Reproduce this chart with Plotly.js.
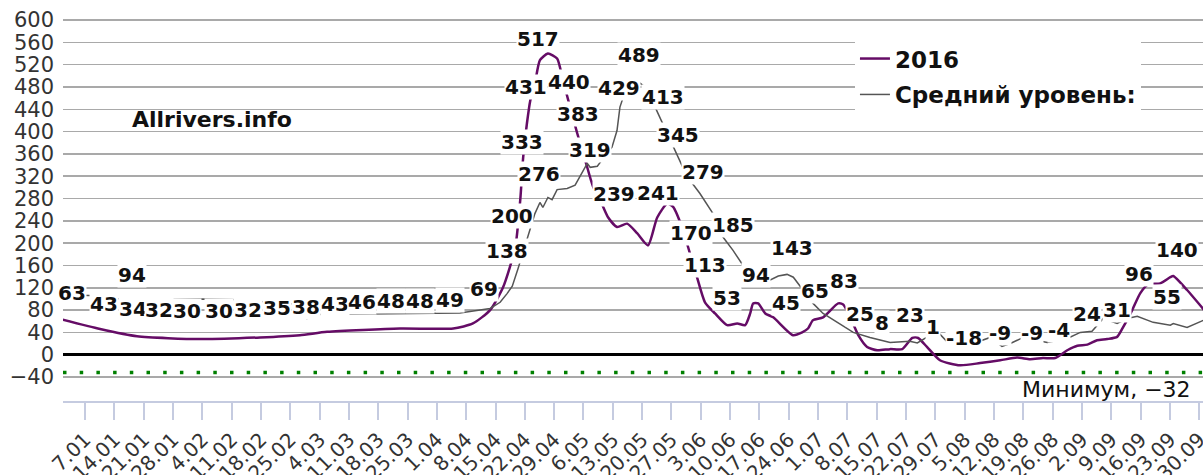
<!DOCTYPE html>
<html>
<head>
<meta charset="utf-8">
<script src="https://cdn.plot.ly/plotly-3.0.1.min.js"></script>
<style>
  html, body { margin: 0; padding: 0; background: #fff; }
  #chart { width: 1203px; height: 475px; }
</style>
</head>
<body>
<div id="chart"></div>
<script>
// The x axis is a generic (non-leap) calendar year, as in the original chart.
const REF_YEAR = 2015;

// 2016 water level (day of year, value)
const days2016 = [1.5,10.6,19.4,34.5,48.8,58.3,64.8,82.2,94.9,99.6,103.7,106.8,109.7,110.9,111.6,112.5,113.3,114.4,115.6,117.5,119.7,121.1,122.8,124.5,126.4,128.3,130.0,131.9,134.0,136.4,138.8,141.4,143.6,146.0,147.4,149.5,151.4,153.1,155.0,157.4,160.3,162.7,164.6,165.8,166.5,167.7,169.4,171.3,176.0,178.2,179.6,180.8,183.2,186.8,188.0,189.7,191.6,193.7,196.1,199.2,202.1,204.5,205.9,208.0,211.1,215.9,220.7,225.5,229.5,232.6,235.7,238.6,241.5,243.9,246.3,248.6,251.0,253.4,254.8,257.0,258.9,260.8,263.7,266.1,266.8,270.1,274.4];
const level2016 = [63,46,33,28,31,35,41,47,47,56,80,121,192,277,354,415,456,486,528,540,531,492,444,397,349,301,277,246,229,235,218,196,246,271,265,229,182,139,94,74,53,56,53,74,92,92,74,67,35,40,47,62,67,92,90,67,35,14,8,10,10,30,30,14,-10,-19,-15,-10,-5,-8,-6,-6,8,16,18,26,28,32,49,80,110,126,128,139,141,116,78];

// Average level (day of year, value)
const daysAvg = [1,8.2,14.2,20.8,27.3,34.5,42.1,49.3,56.0,58.3,60.0,61.4,62.6,82.2,96.5,103.7,106.1,107.8,109.0,110.4,112.5,114.4,115.6,116.3,117.5,118.5,119.7,122.1,124.0,125.7,126.9,127.6,129.3,130.7,132.8,134.0,134.7,135.5,137.6,139.5,141.2,143.1,146.0,148.3,150.7,153.8,157.0,159.3,161.7,164.1,167.4,170.6,172.5,174.6,176.1,178.4,180.8,183.2,186.6,190.4,194.4,199.2,203.9,205.7,208.8,210.7,213.1,215.9,219.0,223.1,225.9,227.9,231.0,234.3,236.7,241.5,244.6,247.4,250.1,253.4,255.8,258.2,262.0,266.1,266.8,270.1,274.4];
const levelAvg = [107,106,101,98,99,100,99,95,92,90,65,74,72,74,75,83,94,110,123,155,205,253,273,264,282,278,296,298,304,327,343,336,338,352,372,402,444,462,480,487,477,444,397,361,320,289,252,211,187,160,139,134,141,144,139,116,92,74,58,40,31,22,24,21,35,40,21,13,20,31,15,20,31,26,22,29,40,42,65,56,65,69,58,53,56,49,63];

// Value labels (day of year, value)
const labelDays = [3.9,11.5,18.5,18.2,24.7,31.4,39.0,45.9,52.8,59.8,66.7,73.1,80.1,87.0,94.1,102.2,107.7,108.9,111.3,112.3,115.4,115.2,122.6,124.7,127.6,133.3,134.5,139.3,143.8,145.0,148.6,151.7,154.6,155.0,160.3,161.7,167.2,174.4,175.8,181.3,188.2,192.0,197.3,203.9,209.5,216.9,225.5,233.1,239.5,246.2,253.4,258.7,265.4,267.8];
const labelValues = [63,43,34,94,32,30,30,32,35,38,43,46,48,48,49,69,138,200,333,431,276,517,440,383,319,239,429,489,241,413,345,170,279,113,53,185,94,45,143,65,83,25,8,23,1,-18,-9,-9,-4,24,31,96,55,140];

const seriesNames = ['2016', 'Средний уровень:'];
const minLevel = -32;
const minLabel = 'Минимум';
const yTicks = [-40,0,40,80,120,160,200,240,280,320,360,400,440,480,520,560,600];

function dayToDate(doy) {
  const ms = Date.UTC(REF_YEAR, 0, 1) + (doy - 1) * 864e5;
  return new Date(ms).toISOString().slice(0, 19).replace('T', ' ');
}

const FONT = 'DejaVu Sans, Verdana, sans-serif';

const traces = [
  {
    type: 'scatter', mode: 'lines', name: seriesNames[0], legendgroup: 'a',
    x: days2016.map(dayToDate), y: level2016,
    line: { color: '#650c66', width: 2.5, shape: 'spline', smoothing: 0.6 },
    hoverinfo: 'skip'
  },
  {
    type: 'scatter', mode: 'lines', name: seriesNames[1], legendgroup: 'b',
    x: daysAvg.map(dayToDate), y: levelAvg,
    line: { color: '#555555', width: 1.5 },
    hoverinfo: 'skip'
  }
];

const annotations = labelDays.map((d, i) => ({
  x: dayToDate(d), y: labelValues[i], xref: 'x', yref: 'y',
  text: String(labelValues[i]), showarrow: false, yshift: 27,
  bgcolor: 'white', borderpad: 0,
  font: { family: FONT, size: 20, weight: 'bold', color: '#111' }
}));
annotations.push({
  xref: 'paper', yref: 'paper', x: 0.1307, y: 0.7032, xanchor: 'center', yanchor: 'middle',
  text: 'Allrivers.info', showarrow: false,
  font: { family: FONT, size: 22, weight: 'bold', color: '#111' }
});
annotations.push({
  xref: 'paper', yref: 'y', x: 0.9912, y: minLevel, xanchor: 'right', yanchor: 'middle', yshift: -17,
  text: minLabel + ', ' + String(minLevel).replace('-', '\u2212'), showarrow: false,
  font: { family: FONT, size: 22, color: '#111' }
});

const layout = {
  width: 1203, height: 475,
  margin: { l: 63, r: 0, t: 0, b: 74, pad: 0 },
  paper_bgcolor: 'white', plot_bgcolor: 'white',
  font: { family: FONT, color: '#333' },
  showlegend: true,
  legend: {
    x: 0.6947, y: 0.9075, xanchor: 'left', yanchor: 'top',
    bgcolor: 'white', borderwidth: 0,
    font: { family: FONT, size: 23, weight: 'bold', color: '#111' },
    traceorder: 'grouped', tracegroupgap: 3
  },
  xaxis: {
    type: 'date', range: [dayToDate(1.74), dayToDate(273.9)],
    tick0: dayToDate(7), dtick: 7 * 864e5, tickformat: '%-d.%m', tickangle: -45,
    ticks: 'outside', ticklen: 17, tickwidth: 2, tickcolor: '#c5cbe0',
    showline: true, linecolor: '#c5cbe0', linewidth: 2,
    showgrid: false, zeroline: false,
    ticklabeloverflow: 'allow',
    tickfont: { family: FONT, size: 20, color: '#333' },
    automargin: false, fixedrange: true
  },
  yaxis: {
    range: [-83, 636], tickvals: yTicks, ticks: '',
    showgrid: true, gridcolor: '#a9a9a9', gridwidth: 1.5,
    zeroline: true, zerolinecolor: '#000', zerolinewidth: 2.5,
    showline: false,
    tickfont: { family: FONT, size: 21, color: '#333' },
    ticklabelstandoff: 8,
    automargin: false, fixedrange: true
  },
  shapes: [{
    type: 'line', xref: 'paper', x0: 0, x1: 1, yref: 'y', y0: minLevel, y1: minLevel,
    line: { color: '#008000', width: 3.5, dash: '3.5px,13.2px' }
  }],
  annotations: annotations
};

Plotly.newPlot('chart', traces, layout, { displayModeBar: false, staticPlot: true });
</script>
</body>
</html>
